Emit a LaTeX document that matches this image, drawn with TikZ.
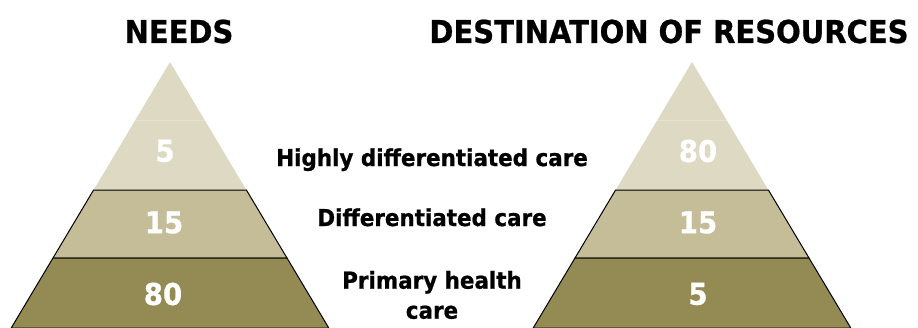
\documentclass[tikz,border=0pt]{standalone}
\usepackage{fontspec}
\setmainfont{DejaVu Sans}
\newfontfamily\chartfont[FakeStretch=0.92,BoldFeatures={FakeBold=0.8}]{DejaVu Sans}

\tikzset{
  title/.style={font=\chartfont\fontsize{31.5}{36}\selectfont\bfseries, inner sep=0pt},
  level/.style={font=\chartfont\fontsize{23.3}{30}\selectfont\bfseries, inner sep=0pt, align=center},
  share/.style={font=\chartfont\fontsize{30}{34}\selectfont\bfseries, text=white, inner sep=0pt}
}

\begin{document}
\begin{tikzpicture}[x=1pt,y=-1pt]

% ------------------------------------------------ tier colors
\definecolor{tier_top}{RGB}{221,217,195}  %#DDD9C3
\definecolor{tier_mid}{RGB}{196,189,151}  %#C4BD97
\definecolor{tier_low}{RGB}{148,138,84}   %#948A54

\useasboundingbox (0,0) rectangle (918,327);

% left pyramid
\fill[tier_top] (170,62) -- (246.4,190) -- (93.6,190) -- cycle;
\draw[white!25!tier_top,line width=0.5pt] (135.4,120) -- (204.6,120);
\filldraw[fill=tier_mid,draw=black,line width=1pt] (93.6,190) -- (246.4,190) -- (287,258) -- (53,258) -- cycle;
\filldraw[fill=tier_low,draw=black,line width=1pt] (53,258) -- (287,258) -- (328.8,328) -- (11.2,328) -- cycle;

% right pyramid
\fill[tier_top] (692,62) -- (768.4,190) -- (615.6,190) -- cycle;
\draw[white!25!tier_top,line width=0.5pt] (657.4,120) -- (726.6,120);
\filldraw[fill=tier_mid,draw=black,line width=1pt] (615.6,190) -- (768.4,190) -- (809,258) -- (575,258) -- cycle;
\filldraw[fill=tier_low,draw=black,line width=1pt] (575,258) -- (809,258) -- (850.8,328) -- (533.2,328) -- cycle;

% headings
\node[title] (needs) at (179,31.5) {NEEDS};
\node[title] (dest)  at (669,31.5) {DESTINATION OF RESOURCES};

% shares
\node[share] (need_hi)  at (165,151)   {5};
\node[share] (need_mid) at (164,222.5) {15};
\node[share] (need_low) at (163,294)   {80};
\node[share] (res_hi)   at (698,151)   {80};
\node[share] (res_mid)  at (698,222.5) {15};
\node[share] (res_low)  at (698,294)   {5};

% levels of care
\node[level,anchor=base] (lvl_hi)  at (432,166) {Highly differentiated care};
\node[level,anchor=base] (lvl_mid) at (432,226) {Differentiated care};
\node[level] (lvl_low) at (432,295) {Primary health\\care};

\end{tikzpicture}
\end{document}
